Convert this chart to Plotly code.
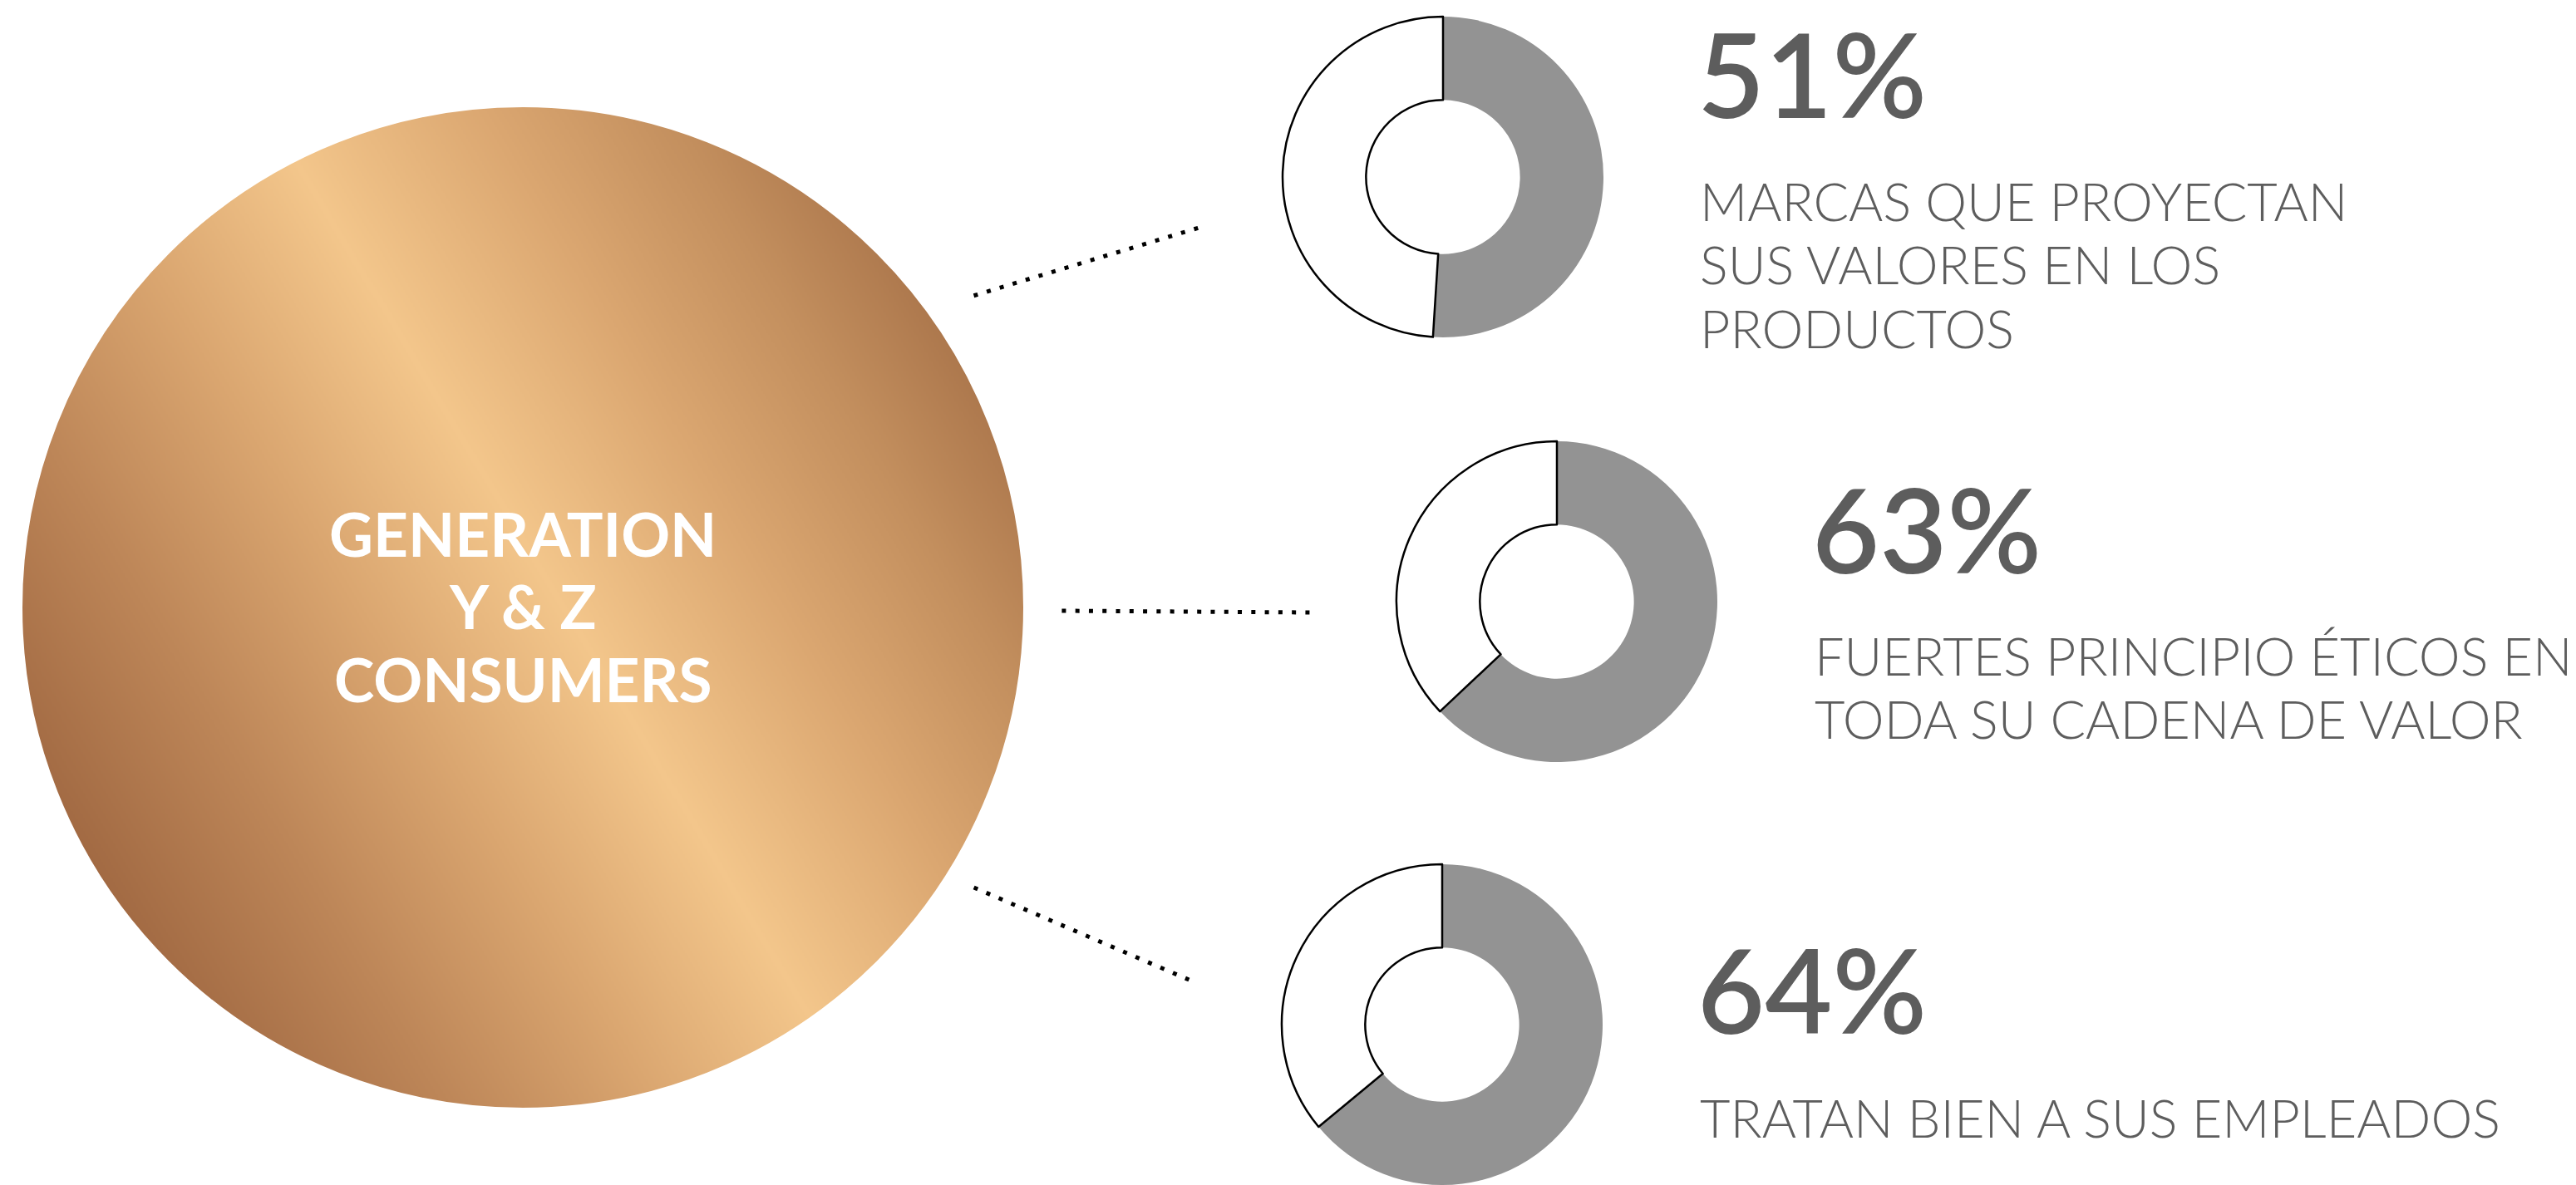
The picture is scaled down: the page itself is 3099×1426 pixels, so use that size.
import numpy as np
import plotly.graph_objects as go

# ---------------- data ----------------
percent_values = [51, 63, 64]
percent_labels = ["51%", "63%", "64%"]
descriptions = [
    ["MARCAS QUE PROYECTAN", "SUS VALORES EN LOS", "PRODUCTOS"],
    ["FUERTES PRINCIPIO ÉTICOS EN", "TODA SU CADENA DE VALOR"],
    ["TRATAN BIEN A SUS EMPLEADOS"],
]
center_lines = ["GENERATION", "Y & Z", "CONSUMERS"]

# ---------------- layout constants (pixels) ----------------
W, H = 3099, 1426
circle_cx, circle_cy, circle_r = 629, 731, 603
donut_centers = [(1736, 213), (1873, 724), (1735, 1233)]
donut_r = 193
donut_hole = 0.48
text_left = [2043, 2181, 2043]
pct_left = [2040, 2178, 2040]
pct_y = [88, 636, 1190]
desc_y = [[241.5, 317.5, 394.5], [788.5, 864.5], [1344.5]]
center_y = [642, 728.5, 816.5]
connectors = [((1174, 355), (1439, 275)),
              ((1280, 735), (1573, 737)),
              ((1174, 1069), (1428, 1178))]
dot_ext = 2.6

TEXT_GREY = "#5d5d5d"
PIE_GREY = "#939393"
FONT = "Lato"

fig = go.Figure()

# ---------------- gradient circle (heatmap masked to a disc) ----------------
N = 601
gx = np.linspace(circle_cx - circle_r - 2, circle_cx + circle_r + 2, N)
gy = np.linspace(circle_cy - circle_r - 2, circle_cy + circle_r + 2, N)
X, Y = np.meshgrid(gx, gy)
ang = np.deg2rad(31)
proj = (X - circle_cx) * np.cos(ang) - (Y - circle_cy) * np.sin(ang)
t = (proj / circle_r + 1) / 2
dist = np.hypot(X - circle_cx, Y - circle_cy)
z = np.where(dist <= circle_r + 1, np.round(t, 3), np.nan)

gold_scale = [
    [0.0, "#a26a43"],
    [0.18, "#bd8658"],
    [0.36, "#daa670"],
    [0.535, "#f3c68b"],
    [0.72, "#dba771"],
    [0.88, "#c38f5e"],
    [1.0, "#ad784d"],
]
fig.add_trace(go.Heatmap(
    x=gx, y=gy, z=z, colorscale=gold_scale, zmin=0, zmax=1,
    showscale=False, hoverinfo="skip", zsmooth=False,
))

# smooth the disc edge
fig.add_shape(type="circle", xref="x", yref="y",
              x0=circle_cx - circle_r - 2, x1=circle_cx + circle_r + 2,
              y0=circle_cy - circle_r - 2, y1=circle_cy + circle_r + 2,
              line=dict(color="white", width=6), layer="above")

# ---------------- dotted connectors ----------------
for (p0, p1) in connectors:
    dx, dy = p1[0] - p0[0], p1[1] - p0[1]
    L = (dx ** 2 + dy ** 2) ** 0.5
    ux, uy = dx / L, dy / L
    fig.add_trace(go.Scatter(
        x=[p0[0] - ux * dot_ext, p1[0] + ux * dot_ext],
        y=[p0[1] - uy * dot_ext, p1[1] + uy * dot_ext],
        mode="lines",
        line=dict(color="black", width=5, dash="5px,11.28px"),
        hoverinfo="skip", showlegend=False,
    ))

# ---------------- donuts ----------------
def clamp(v):
    return min(1.0, max(0.0, v))

for (cx, cy), v in zip(donut_centers, percent_values):
    fig.add_trace(go.Pie(
        values=[v, 100 - v], labels=["sí", "no"],
        hole=donut_hole, sort=False, direction="clockwise", rotation=0,
        marker=dict(colors=[PIE_GREY, "white"],
                    line=dict(color=[PIE_GREY, "black"], width=[0, 2.5])),
        textinfo="none", hoverinfo="skip", showlegend=False,
        domain=dict(x=[clamp((cx - donut_r) / W), clamp((cx + donut_r) / W)],
                    y=[clamp(1 - (cy + donut_r) / H), clamp(1 - (cy - donut_r) / H)]),
    ))

# ---------------- texts ----------------
ann = []
for i, lab in enumerate(percent_labels):
    ann.append(dict(x=pct_left[i], y=pct_y[i], text=lab, xref="x", yref="y",
                    xanchor="left", yanchor="middle", showarrow=False,
                    font=dict(family=FONT, size=140, color=TEXT_GREY, weight=600)))
    for line, yy in zip(descriptions[i], desc_y[i]):
        ann.append(dict(x=text_left[i], y=yy, text=line, xref="x", yref="y",
                        xanchor="left", yanchor="middle", showarrow=False,
                        font=dict(family=FONT, size=63, color=TEXT_GREY, weight=300)))
for line, yy in zip(center_lines, center_y):
    ann.append(dict(x=circle_cx, y=yy, text=line, xref="x", yref="y",
                    xanchor="center", yanchor="middle", showarrow=False,
                    font=dict(family=FONT, size=73, color="white", weight=700)))

fig.update_layout(
    width=W, height=H, margin=dict(l=0, r=0, t=0, b=0),
    paper_bgcolor="white", plot_bgcolor="white",
    xaxis=dict(range=[0, W], visible=False, fixedrange=True),
    yaxis=dict(range=[H, 0], visible=False, fixedrange=True),
    annotations=ann, showlegend=False,
)

fig.write_html("out.html", config={"displayModeBar": False})
